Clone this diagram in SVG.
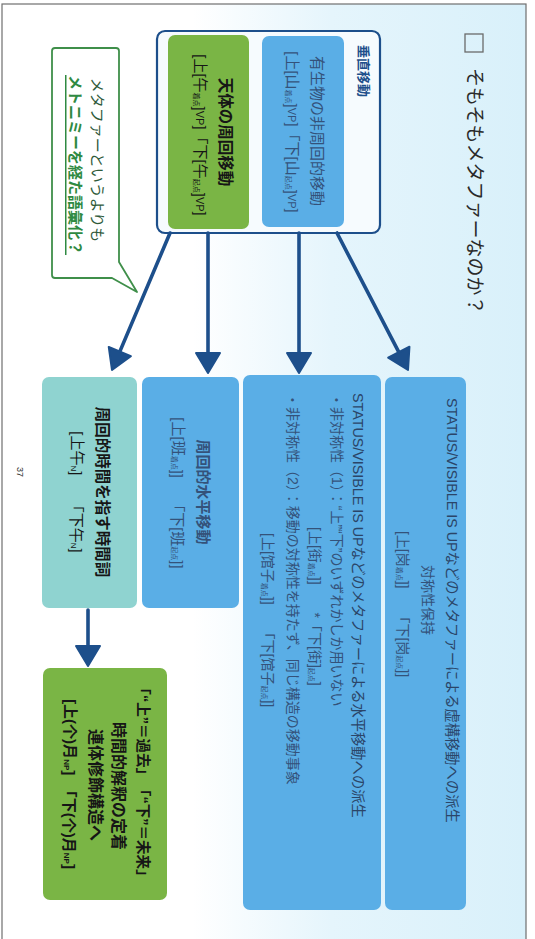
<svg xmlns="http://www.w3.org/2000/svg" width="535" height="939" viewBox="0 0 535 939">
<defs>
<linearGradient id="bg" gradientUnits="userSpaceOnUse" x1="0" y1="0" x2="535" y2="0">
<stop offset="0.36" stop-color="#ffffff"/>
<stop offset="0.62" stop-color="#e5f5fc"/>
<stop offset="1" stop-color="#d8f0fa"/>
</linearGradient>
<marker id="ah" markerUnits="userSpaceOnUse" markerWidth="24" markerHeight="28" viewBox="0 0 24 28" refX="2" refY="14" orient="auto">
<path d="M2,2 L22,14 L2,26 Z" fill="#1d4f8b" stroke="#1d4f8b" stroke-width="2" stroke-linejoin="round"/>
</marker>
<style>
.t{font-family:"Liberation Sans","Noto Sans CJK JP",sans-serif;dominant-baseline:central;}
.c{text-anchor:middle}
.b{font-weight:700}
.bl{fill:#34527a}
.bt{fill:#2b4568}
.k{fill:#161616}
.s{font-size:7px}
.box{stroke:none}
.conn{stroke:#1d4f8b;stroke-width:3.6;fill:none;stroke-linecap:round}
</style>
</defs>

<rect x="0" y="0" width="535" height="939" fill="#ffffff"/>
<rect x="2" y="4" width="524" height="940" fill="url(#bg)" stroke="#6f6f6f" stroke-width="1.2"/>

<g id="title">
<rect x="465" y="34" width="18" height="18" fill="none" stroke="#6a6a6a" stroke-width="1.3"/>
<text class="t" font-size="19" fill="#2a2a2a" transform="translate(474 68) rotate(90)">そもそもメタファーなのか？</text>
</g>

<g id="vertical-group">
<rect x="157" y="31" width="223" height="202" rx="8" fill="#f6fbfe" stroke="#1d4f8b" stroke-width="2.2"/>
<text class="t b" font-size="13" fill="#1d4f8b" transform="translate(363 45) rotate(90)">垂直移動</text>
</g>

<g id="animate-motion">
<rect class="box" x="262" y="36" width="82" height="191" rx="7" fill="#5aaee6"/>
<text class="t c bl" font-size="15" transform="translate(317 131) rotate(90)">有生物の非周回的移動</text>
<text class="t c bl" font-size="15" transform="translate(292 132) rotate(90)">[上[山<tspan class="s" dy="3">着点</tspan><tspan dy="-3">]</tspan><tspan font-size="11">VP</tspan>]「下[山<tspan class="s" dy="3">起点</tspan><tspan dy="-3">]</tspan><tspan font-size="11">VP</tspan>]</text>
</g>

<g id="celestial-motion">
<rect class="box" x="168" y="35" width="81" height="194" rx="7" fill="#7ab545"/>
<text class="t c b k" font-size="15.5" transform="translate(225 132) rotate(90)">天体の周回移動</text>
<text class="t c k" font-size="15" transform="translate(200 135) rotate(90)">[上[午<tspan class="s" dy="3">着点</tspan><tspan dy="-3">]</tspan><tspan font-size="11">VP</tspan>]「下[午<tspan class="s" dy="3">起点</tspan><tspan dy="-3">]</tspan><tspan font-size="11">VP</tspan>]</text>
</g>

<g id="callout">
<path d="M55,48 H116 Q119,48 119,51 V262 L137,292 L112,278 H55 Q52,278 52,275 V51 Q52,48 55,48 Z" fill="#ffffff" stroke="#3f8f4a" stroke-width="1.8" stroke-linejoin="round"/>
<text class="t c" font-size="15" fill="#2f5a3a" transform="translate(97 160) rotate(90)">メタファーというよりも</text>
<text class="t c b" font-size="15" fill="#2f8a42" text-decoration="underline" transform="translate(75 165) rotate(90)">メトニミーを経た語彙化？</text>
</g>

<g id="fictive-motion">
<rect class="box" x="385" y="377" width="81" height="533" rx="7" fill="#5aaee6"/>
<text class="t bt" font-size="14.3" transform="translate(452 398) rotate(90)">STATUS/VISIBLE IS UPなどのメタファーによる虚構移動への派生</text>
<text class="t c bl" font-size="14" transform="translate(428 600) rotate(90)">対称性保持</text>
<text class="t c bl" font-size="14" transform="translate(403 604) rotate(90)">[上[岗<tspan class="s" dy="3">着点</tspan><tspan dy="-3">]]　　「下[岗</tspan><tspan class="s" dy="3">起点</tspan><tspan dy="-3">]]</tspan></text>
</g>

<g id="horizontal-derivation">
<rect class="box" x="243" y="375" width="138" height="535" rx="7" fill="#5aaee6"/>
<text class="t bt" font-size="14.3" transform="translate(358 393) rotate(90)">STATUS/VISIBLE IS UPなどのメタファーによる水平移動への派生</text>
<text class="t bl" font-size="14" transform="translate(337 393) rotate(90)">・非対称性（1）：“上”“下”のいずれかしか用いない</text>
<text class="t bl" font-size="14" transform="translate(315 527) rotate(90)">[上[街<tspan class="s" dy="3">着点</tspan><tspan dy="-3">]]　　*「下[街]</tspan><tspan class="s" dy="3">起点</tspan><tspan dy="-3">]</tspan></text>
<text class="t bl" font-size="14" transform="translate(293 393) rotate(90)">・非対称性（2）：移動の対称性を持たず、同じ構造の移動事象</text>
<text class="t bl" font-size="14" transform="translate(268 533) rotate(90)">[上[馆子<tspan class="s" dy="3">着点</tspan><tspan dy="-3">]]　　「下[馆子</tspan><tspan class="s" dy="3">起点</tspan><tspan dy="-3">]]</tspan></text>
</g>

<g id="periodic-horizontal">
<rect class="box" x="142" y="377" width="97" height="231" rx="7" fill="#5aaee6"/>
<text class="t c b bl" font-size="15" transform="translate(203 492) rotate(90)">周回的水平移動</text>
<text class="t c bl" font-size="15" transform="translate(178 493) rotate(90)">[上[班<tspan class="s" dy="3">着点</tspan><tspan dy="-3">]]　 「下[班</tspan><tspan class="s" dy="3">起点</tspan><tspan dy="-3">]]</tspan></text>
</g>

<g id="time-word">
<rect class="box" x="42" y="377" width="95" height="231" rx="7" fill="#8fd3d0"/>
<text class="t c b k" font-size="15.5" transform="translate(102 492) rotate(90)">周回的時間を指す時間詞</text>
<text class="t c k" font-size="15" transform="translate(77 492) rotate(90)">[上午<tspan font-size="8" dy="3">N</tspan><tspan dy="-3">]　　「下午</tspan><tspan font-size="8" dy="3">N</tspan><tspan dy="-3">]</tspan></text>
</g>

<g id="temporal-fixation">
<rect class="box" x="43" y="668" width="124" height="232" rx="7" fill="#7ab545"/>
<text class="t c b k" font-size="14.5" transform="translate(143 782) rotate(90)">「“上”＝過去」　「“下”＝未来」</text>
<text class="t c b k" font-size="16" transform="translate(118 786) rotate(90)">時間的解釈の定着</text>
<text class="t c b k" font-size="16" transform="translate(95 785) rotate(90)">連体修飾構造へ</text>
<text class="t c b k" font-size="15" transform="translate(70 784) rotate(90)">[上(个)月<tspan font-size="8" dy="3">NP</tspan><tspan dy="-3">]　「下(个)月</tspan><tspan font-size="8" dy="3">NP</tspan><tspan dy="-3">]</tspan></text>
</g>

<g id="connectors">
<line class="conn" x1="170" y1="233" x2="119.8" y2="351.6" marker-end="url(#ah)"/>
<line class="conn" x1="208" y1="233" x2="208" y2="353" marker-end="url(#ah)"/>
<line class="conn" x1="299" y1="233" x2="299" y2="353" marker-end="url(#ah)"/>
<line class="conn" x1="337" y1="233" x2="398.8" y2="352.2" marker-end="url(#ah)"/>
<line class="conn" x1="88" y1="610" x2="88" y2="646" marker-end="url(#ah)"/>
</g>

<text class="t c" font-size="9" fill="#333333" transform="translate(20 472) rotate(90)">37</text>
</svg>
